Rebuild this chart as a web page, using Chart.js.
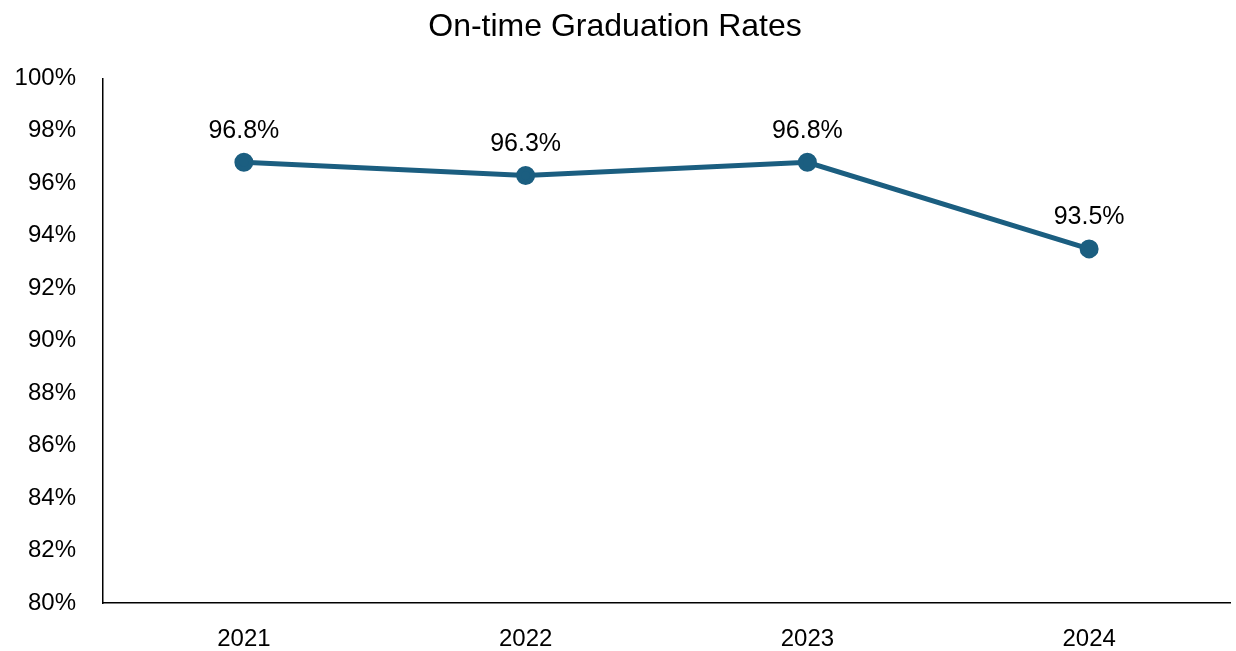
<!DOCTYPE html>
<html>
<head>
<meta charset="utf-8">
<title>On-time Graduation Rates</title>
<script src="https://cdn.jsdelivr.net/npm/chart.js@4/dist/chart.umd.min.js"></script>
<style>
  html, body { margin: 0; padding: 0; background: #fff; overflow: hidden; }
  #wrap { width: 1236px; height: 651px; }
</style>
</head>
<body>
<div id="wrap"><canvas id="myChart"></canvas></div>
<script>
const years = ["2021", "2022", "2023", "2024"];
const rates = [96.8, 96.3, 96.8, 93.5];
const lineColor = "#1b5e80";
const fontFamily = "'Liberation Sans', Arial, sans-serif";

// draws the value over each point
const pointLabels = {
  id: "pointLabels",
  afterDatasetsDraw(chart) {
    const ctx = chart.ctx;
    const meta = chart.getDatasetMeta(0);
    ctx.save();
    ctx.font = `25px ${fontFamily}`;
    ctx.fillStyle = "#000";
    ctx.textAlign = "center";
    ctx.textBaseline = "bottom";
    meta.data.forEach((pt, i) => {
      ctx.fillText(rates[i].toFixed(1) + "%", pt.x, pt.y - 19);
    });
    ctx.restore();
  }
};

const myChart = new Chart("myChart", {
  type: "line",
  data: {
    labels: years,
    datasets: [
      {
        data: rates,
        borderColor: lineColor,
        backgroundColor: lineColor,
        borderWidth: 5,
        pointRadius: 7,
        pointHoverRadius: 7,
        tension: 0,
        fill: false,
      },
    ],
  },
  options: {
    responsive: true,
    maintainAspectRatio: false,
    animation: false,
    layout: { autoPadding: false, padding: { left: 0, right: 6, top: 0, bottom: 0 } },
    plugins: {
      legend: { display: false },
      tooltip: { enabled: false },
      title: {
        display: true,
        text: "On-time Graduation Rates",
        color: "#000",
        font: { family: fontFamily, size: 32, weight: "normal" },
        padding: { top: 8, bottom: 32 },
      },
    },
    scales: {
      x: {
        offset: true,
        grid: { display: false, drawTicks: false },
        border: { display: true, color: "#000", width: 1.5 },
        ticks: { color: "#000", padding: 22, font: { family: fontFamily, size: 24 } },
        afterFit(scale) {
          scale.height = 48;
          scale.paddingLeft = 0;
          scale.paddingRight = 0;
        },
      },
      y: {
        min: 80,
        max: 100,
        grid: { display: false, drawTicks: false },
        border: { display: true, color: "#000", width: 1.5 },
        ticks: {
          stepSize: 2,
          color: "#000",
          padding: 27,
          font: { family: fontFamily, size: 24 },
          callback: (v) => v + "%",
        },
        afterFit(scale) { scale.width = 103; },
      },
    },
  },
  plugins: [pointLabels],
});
</script>
</body>
</html>
